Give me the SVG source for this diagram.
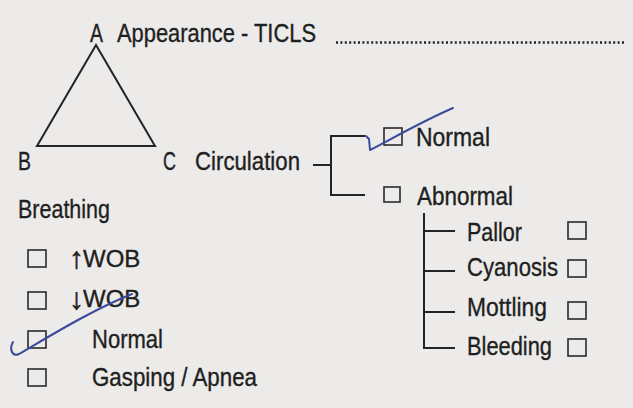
<svg xmlns="http://www.w3.org/2000/svg" width="633" height="408" viewBox="0 0 633 408">
<style>
.t{font-family:"Liberation Sans",Arial,sans-serif;font-size:25px;fill:#1f1f1f;stroke:#1f1f1f;stroke-width:0.35px;}
.ln{stroke:#242424;stroke-width:2;fill:none;}
.box{stroke:#2a2a2a;stroke-width:1.6;fill:none;}
.pen{stroke:#3b4a9c;stroke-width:2;fill:none;stroke-linecap:round;stroke-linejoin:round;}
.ar{font-size:30px;stroke-width:0.6px;}
.wob{font-size:24px;}
</style>
<rect width="633" height="408" fill="#ecebe9"/>
<g id="triangle">
<polygon class="ln" points="96,45 37,146 155,146"/>
<text class="t" x="90" y="42" textLength="13" lengthAdjust="spacingAndGlyphs">A</text>
<text class="t" x="18" y="170" textLength="13" lengthAdjust="spacingAndGlyphs">B</text>
<text class="t" x="163" y="170" textLength="13" lengthAdjust="spacingAndGlyphs">C</text>
</g>
<g id="appearance">
<text class="t" x="117" y="42" textLength="199" lengthAdjust="spacingAndGlyphs">Appearance - TICLS</text>
<line x1="336" y1="42.5" x2="625" y2="42.5" stroke="#242424" stroke-width="2.6" stroke-dasharray="2 2.4"/>
</g>
<g id="circulation">
<text class="t" x="195" y="170" textLength="105" lengthAdjust="spacingAndGlyphs">Circulation</text>
</g>
<g id="circ-normal">
<rect class="box" x="384" y="128" width="18" height="17"/>
<text class="t" x="416" y="146" textLength="74" lengthAdjust="spacingAndGlyphs">Normal</text>
</g>
<g id="circ-abnormal">
<rect class="box" x="384" y="187" width="16" height="15"/>
<text class="t" x="417" y="205" textLength="96" lengthAdjust="spacingAndGlyphs">Abnormal</text>
</g>
<g id="pallor">
<text class="t" x="467" y="241" textLength="55" lengthAdjust="spacingAndGlyphs">Pallor</text>
<rect class="box" x="568" y="222" width="18" height="17"/>
</g>
<g id="cyanosis">
<text class="t" x="467" y="276" textLength="91" lengthAdjust="spacingAndGlyphs">Cyanosis</text>
<rect class="box" x="568" y="260" width="18" height="17"/>
</g>
<g id="mottling">
<text class="t" x="467" y="316" textLength="80" lengthAdjust="spacingAndGlyphs">Mottling</text>
<rect class="box" x="568" y="302" width="18" height="17"/>
</g>
<g id="bleeding">
<text class="t" x="467" y="355" textLength="85" lengthAdjust="spacingAndGlyphs">Bleeding</text>
<rect class="box" x="568" y="339" width="18" height="17"/>
</g>
<g id="breathing">
<text class="t" x="18" y="218" textLength="92" lengthAdjust="spacingAndGlyphs">Breathing</text>
</g>
<g id="wob-up">
<rect class="box" x="28" y="250" width="18" height="17"/>
<text class="t" x="69" y="268"><tspan class="ar">↑</tspan><tspan class="wob" x="83" y="267">WOB</tspan></text>
</g>
<g id="wob-down">
<rect class="box" x="28" y="292" width="18" height="17"/>
<text class="t" x="69" y="309"><tspan class="ar">↓</tspan><tspan class="wob" x="83" y="307">WOB</tspan></text>
</g>
<g id="br-normal">
<rect class="box" x="28" y="331" width="18" height="17"/>
<text class="t" x="92" y="348" textLength="71" lengthAdjust="spacingAndGlyphs">Normal</text>
</g>
<g id="gasping">
<rect class="box" x="28" y="369" width="18" height="17"/>
<text class="t" x="92" y="386" textLength="165" lengthAdjust="spacingAndGlyphs">Gasping / Apnea</text>
</g>
<g id="connectors">
<path class="ln" d="M313,165 H331 M331,136 V195 M330,136 H365 M330,195 H365"/>
<path class="ln" d="M424,213 V348 H455 M423,231 H455 M423,271 H455 M423,312 H455"/>
</g>
<g id="pen-marks">
<path class="pen" d="M366,136 L369,139 L370,150 C395,137 425,120 453,108"/>
<path class="pen" d="M13,342 C9,349 12,357 19,354 C50,336 92,310 132,294"/>
</g>
</svg>
